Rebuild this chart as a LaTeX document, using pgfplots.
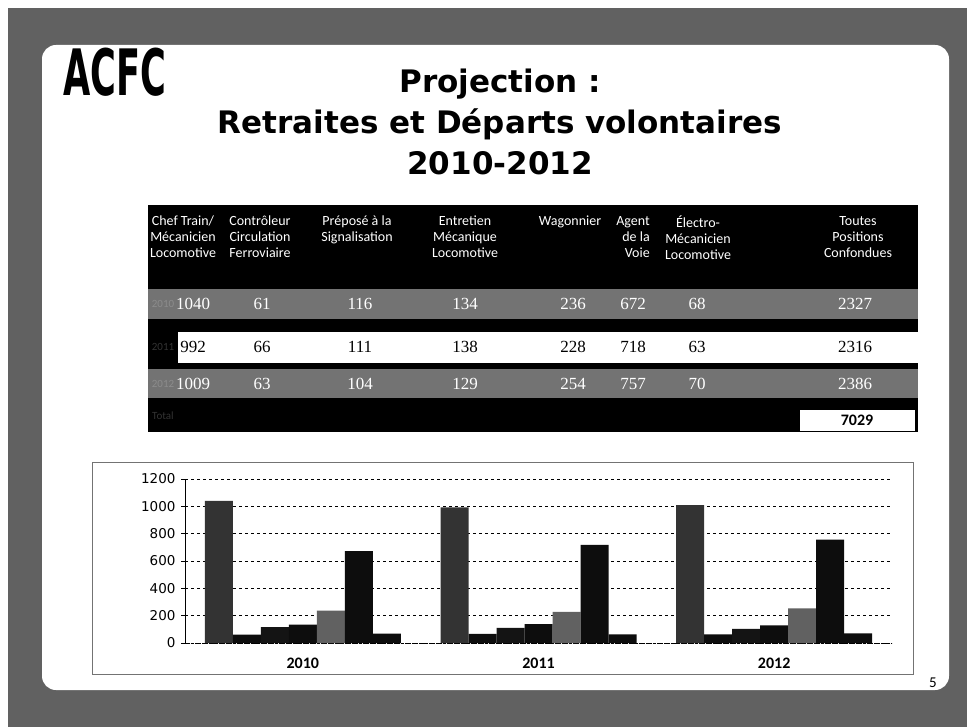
\documentclass[border=0pt]{standalone}
\usepackage{pgfplots}
\pgfplotsset{compat=1.18}
\usepackage{fontspec}
\setmainfont{Carlito}
\newfontfamily\titlefont{DejaVu Sans}
\newfontfamily\numfont{Liberation Serif}
\newfontfamily\tickfont{DejaVu Sans}
\begin{document}
\begin{tikzpicture}[x=1pt,y=1pt]
\useasboundingbox (0,0) rectangle (967,-727);
% scanned frame
\fill[black!62] (8,-8) rectangle (967,-727);
\fill[white, rounded corners=14pt] (42,-45) rectangle (949,-690);
% logo
\node[font=\titlefont\bfseries\fontsize{64}{64}\selectfont, anchor=west, inner sep=0, xscale=0.55] at (63,-72) {ACFC};
% title
\node[font=\titlefont\bfseries\fontsize{31}{31}\selectfont] at (500,-84) {Projection :};
\node[font=\titlefont\bfseries\fontsize{31}{31}\selectfont] at (500,-124) {Retraites et Départs volontaires};
\node[font=\titlefont\bfseries\fontsize{31}{31}\selectfont] at (500,-163) {2010-2012};
% table
\fill[black] (148,-205) rectangle (918,-432);
\fill[black!55] (148,-289) rectangle (918,-319);
\fill[white] (178,-332) rectangle (918,-363);
\fill[black!55] (148,-369) rectangle (918,-398);
\fill[white] (800,-410) rectangle (915,-431);
\begin{scope}[every node/.style={font=\fontsize{14}{16}\selectfont, text=white, align=center, anchor=north, inner sep=0}]
\node at (183,-216) {Chef Train/\\Mécanicien\\Locomotive};
\node at (260,-216) {Contrôleur\\Circulation\\Ferroviaire};
\node at (357,-216) {Préposé à la\\Signalisation};
\node at (465,-216) {Entretien\\Mécanique\\Locomotive};
\node at (570,-216) {Wagonnier};
\node[align=right] at (633,-216) {Agent\\de la\\Voie};
\node at (698,-216) {Électro-\\Mécanicien\\Locomotive};
\node at (858,-216) {Toutes\\Positions\\Confondues};
\end{scope}
\begin{scope}[every node/.style={font=\fontsize{11}{11}\selectfont, inner sep=0}]
\node[text=black!45] at (163,-304) {2010};
\node[text=black!80] at (163,-347) {2011};
\node[text=black!45] at (163,-384) {2012};
\node[text=black!80] at (163,-416) {Total};
\end{scope}
\begin{scope}[every node/.style={font=\numfont\fontsize{17}{17}\selectfont, inner sep=0}]
\node[text=white] at (193,-304) {1040};
\node[text=white] at (262,-304) {61};
\node[text=white] at (360,-304) {116};
\node[text=white] at (465,-304) {134};
\node[text=white] at (573,-304) {236};
\node[text=white] at (633,-304) {672};
\node[text=white] at (697,-304) {68};
\node[text=white] at (855,-304) {2327};
\node at (193,-347) {992};
\node at (262,-347) {66};
\node at (360,-347) {111};
\node at (465,-347) {138};
\node at (573,-347) {228};
\node at (633,-347) {718};
\node at (697,-347) {63};
\node at (855,-347) {2316};
\node[text=white] at (193,-384) {1009};
\node[text=white] at (262,-384) {63};
\node[text=white] at (360,-384) {104};
\node[text=white] at (465,-384) {129};
\node[text=white] at (573,-384) {254};
\node[text=white] at (633,-384) {757};
\node[text=white] at (697,-384) {70};
\node[text=white] at (855,-384) {2386};
\end{scope}
\node[font=\bfseries\fontsize{16}{16}\selectfont, inner sep=0] at (857,-420) {7029};
% chart area
\draw[black!55, line width=0.8pt] (92,-462) rectangle (913,-674);
\begin{axis}[
  at={(185pt,-643pt)}, anchor=south west,
  scale only axis, width=707pt, height=164pt,
  xmin=-0.5, xmax=2.5, ymin=0, ymax=1200,
  ybar=0pt, bar width=28pt,
  xtick={0,1,2}, xticklabels={2010,2011,2012},
  ytick={0,200,...,1200},
  ymajorgrids, grid style={black, dashed, line width=0.5pt},
  axis x line*=bottom, axis y line*=left,
  x axis line style={black, densely dotted, -},
  y axis line style={black, line width=0.8pt, -},
  xtick style={draw=none},
  ytick style={black, line width=0.6pt},
  tick align=outside, major tick length=4pt,
  /pgf/number format/assume math mode=true,
  /pgf/number format/1000 sep={},
  yticklabel style={font=\tickfont\fontsize{13.5}{13.5}\selectfont, xshift=-2pt},
  xticklabel style={font=\bfseries\fontsize{16}{16}\selectfont, yshift=-7pt},
  every axis plot/.append style={draw=none},
]
\addplot[fill=black!80] coordinates {(0,1040) (1,992) (2,1009)};
\addplot[fill=black!95] coordinates {(0,61) (1,66) (2,63)};
\addplot[fill=black!92] coordinates {(0,116) (1,111) (2,104)};
\addplot[fill=black!95] coordinates {(0,134) (1,138) (2,129)};
\addplot[fill=black!62] coordinates {(0,236) (1,228) (2,254)};
\addplot[fill=black!95] coordinates {(0,672) (1,718) (2,757)};
\addplot[fill=black!95] coordinates {(0,68) (1,63) (2,70)};
\end{axis}
\node[font=\fontsize{15}{15}\selectfont] at (933,-683) {5};
\end{tikzpicture}
\end{document}
